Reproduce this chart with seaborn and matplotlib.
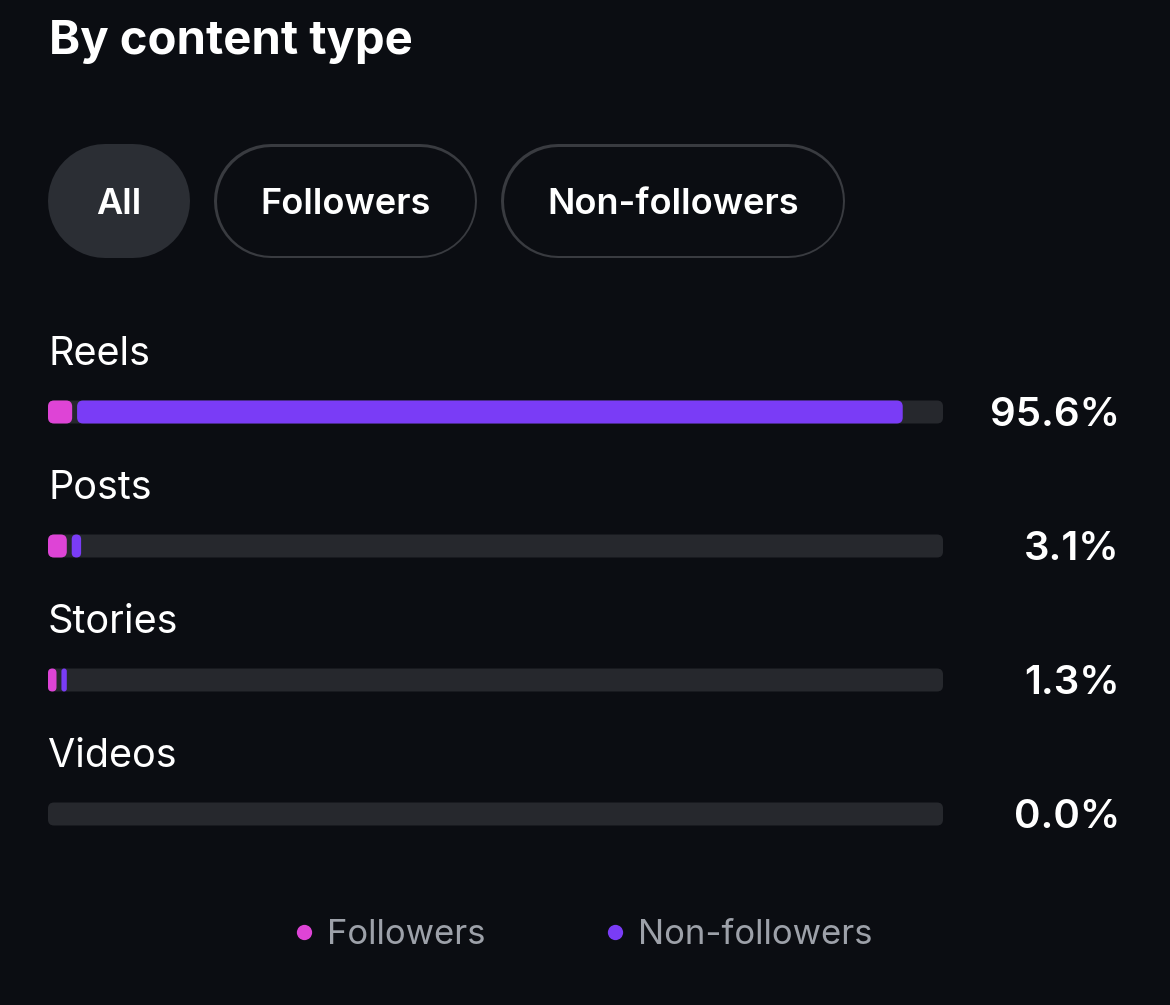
import numpy as np
import pandas as pd
import matplotlib
matplotlib.use("Agg")
import matplotlib.pyplot as plt
from matplotlib.patches import FancyBboxPatch
from matplotlib.lines import Line2D
import seaborn as sns

# --- data ---
categories = ["Reels", "Posts", "Stories", "Videos"]
followers = [2.7, 2.1, 0.95, 0.0]          # pink segment, % of track
non_followers = [92.8, 1.6, 1.15, 0.0]     # purple segment, % of track
value_labels = ["95.6%", "3.1%", "1.3%", "0.0%"]
filters = ["All", "Followers", "Non-followers"]
series_names = ["Followers", "Non-followers"]

# --- style ---
BG = "#0b0d12"
TRACK = "#26282d"
PINK = "#de44d6"
PURPLE = "#7a3cf6"
W, H = 1170, 1005
PT = 0.72  # points per pixel at dpi 100

sns.set_style("dark")
plt.rcParams["font.family"] = ["Inter", "DejaVu Sans"]

fig = plt.figure(figsize=(W / 100, H / 100), dpi=100)
fig.patch.set_facecolor(BG)

# overlay axes in pixel units for header / buttons
deco = fig.add_axes([0, 0, 1, 1])
deco.set_xlim(0, W)
deco.set_ylim(H, 0)
deco.axis("off")
deco.set_facecolor(BG)

deco.text(49, 42, "By content type", color="white", fontsize=34,
          fontweight="bold", ha="left", va="center")

# filter pills drawn as thick round-capped lines
pills = [(48, 190, True), (214, 477, False), (501, 845, False)]
pill_h = 114
for (x0, x1, active), label in zip(pills, filters):
    r = pill_h / 2
    yc = 200.5
    if active:
        deco.plot([x0 + r, x1 - r], [yc, yc], color="#2b2e34",
                  lw=pill_h * PT, solid_capstyle="round")
    else:
        deco.plot([x0 + r, x1 - r], [yc, yc], color="#393b40",
                  lw=pill_h * PT, solid_capstyle="round")
        deco.plot([x0 + r, x1 - r], [yc, yc], color=BG,
                  lw=(pill_h - 5) * PT, solid_capstyle="round")
    deco.text((x0 + x1) / 2, 204, label, color="white", fontsize=26,
              fontweight="semibold", ha="center", va="center")

# --- bar axes: x 0..100 mapped to track pixels 48..943 ---
ax = fig.add_axes([48 / W, (H - 881) / H, 895 / W, 536 / H])
ax.patch.set_alpha(0)

df = pd.DataFrame({"category": categories, "followers": followers,
                   "non_followers": non_followers})
df["track"] = 100.0

bar_h = 23 / 134
gap = 0.55
sns.barplot(data=df, x="track", y="category", color=TRACK, width=bar_h,
            saturation=1, ax=ax)
sns.barplot(data=df, x="followers", y="category", color=PINK, width=bar_h,
            saturation=1, ax=ax)
ax.barh(np.arange(len(categories)),
        [max(n - gap, 0) for n in non_followers],
        left=[f + gap for f in followers], height=bar_h, color=PURPLE)

ax.set_xlim(0, 100)
ax.set_ylim(len(categories) - 0.5, -0.5)

# swap rectangles for rounded ones
px_x = 895 / 100
px_y = 134
radius_px = 6
for rect in list(ax.patches):
    x, y = rect.get_x(), rect.get_y()
    w, h = rect.get_width(), rect.get_height()
    fc = rect.get_facecolor()
    rect.remove()
    if w <= 0:
        continue
    rs = min(radius_px / px_x, w / 2)
    aspect = (rs * px_x / px_y) / rs
    ax.add_patch(FancyBboxPatch((x, y), w, h,
                                boxstyle=f"round,pad=0,rounding_size={rs}",
                                mutation_aspect=aspect, facecolor=fc,
                                edgecolor="none"))

ax.axis("off")

for i, (cat, val) in enumerate(zip(categories, value_labels)):
    ax.text(0.0, i - 47 / 134, cat, color="white", fontsize=28.5,
            ha="left", va="baseline", clip_on=False)
    ax.text((1120 - 48) / px_x, i + 3 / 134, val, color="white", fontsize=29,
            fontweight="semibold", ha="right", va="center", clip_on=False)

handles = [Line2D([], [], marker="o", linestyle="none", markersize=11,
                  markerfacecolor=c, markeredgecolor="none")
           for c in (PINK, PURPLE)]
leg = fig.legend(handles, series_names, loc="center",
                 bbox_to_anchor=(583 / W, 1 - 935 / H), ncol=2,
                 frameon=False, fontsize=25, labelcolor="#9da1a9",
                 handlelength=0.6, handletextpad=0.35, columnspacing=3.45)

fig.savefig("out.png", dpi=100, facecolor=BG)
